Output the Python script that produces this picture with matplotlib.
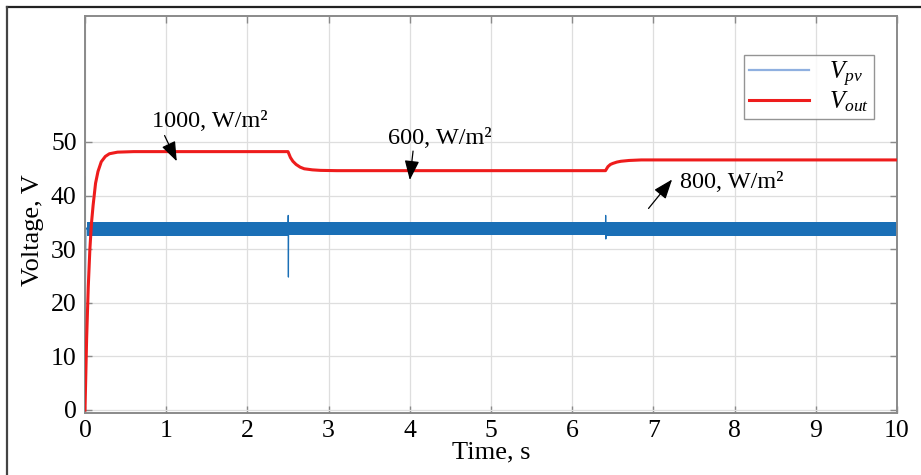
import numpy as np
import matplotlib.pyplot as plt
from matplotlib.lines import Line2D

plt.rcParams['font.family'] = ['Liberation Serif', 'DejaVu Serif']
plt.rcParams['mathtext.fontset'] = 'custom'
plt.rcParams['mathtext.rm'] = 'Liberation Serif'
plt.rcParams['mathtext.it'] = 'Liberation Serif:italic'

# output voltage, sampled along the trace
t_out = [0, 0.02, 0.04, 0.06, 0.08, 0.10, 0.13, 0.16, 0.20, 0.25, 0.30, 0.40, 0.60,
         2.50, 2.53, 2.56, 2.60, 2.65, 2.70, 2.80, 2.90, 3.10,
         6.41, 6.44, 6.47, 6.50, 6.55, 6.60, 6.70, 6.85, 10.0]
v_out = [0, 13.3, 22.9, 30.0, 34.9, 38.2, 42.3, 44.5, 46.3, 47.3, 47.8, 48.1, 48.2,
         48.2, 47.1, 46.4, 45.8, 45.3, 45.0, 44.8, 44.7, 44.65,
         44.65, 45.4, 45.8, 46.0, 46.25, 46.4, 46.55, 46.65, 46.65]

# PV voltage: ripple band envelope plus the start-up and step transients
band_t = [0.02, 2.5, 2.5, 6.41, 6.41, 10.0]
band_hi = [35.1, 35.1, 35.0, 35.0, 35.1, 35.1]
band_lo = [32.4, 32.4, 32.6, 32.6, 32.4, 32.4]
t_pv = [0, 0.002, 0.004, 0.01, 0.02, 2.5, 2.503, 2.505, 2.507, 2.52,
        6.41, 6.412, 6.414, 6.42, 10.0]
v_pv = [0, 43.5, 20.0, 34.0, 33.8, 33.8, 36.3, 24.8, 33.8, 33.8,
        33.8, 36.3, 31.9, 33.8, 33.8]

irr_labels = ['1000, W/m²', '600, W/m²', '800, W/m²']
irr_text = [(1.54, 53.9), (4.37, 50.6), (7.97, 42.4)]
irr_tail = [(0.98, 51.2), (4.04, 48.3), (6.94, 37.6)]
irr_head = [(1.13, 46.4), (4.00, 42.9), (7.23, 43.0)]

blue = '#1a6fb6'
red = '#ee1c1c'
spine = '#8a8a8a'

fig = plt.figure(figsize=(9.21, 4.75), dpi=100)
ax = fig.add_axes([85 / 921, 62 / 475, 812 / 921, 397 / 475])

ax.fill_between(band_t, band_lo, band_hi, color=blue, lw=0, zorder=2)
ax.plot(t_pv, v_pv, color=blue, lw=0.9, zorder=2, label='$V_{pv}$')
ax.plot(t_out, v_out, color=red, lw=2.2, zorder=3, label='$V_{out}$')

for lab, xy_t, tail, head in zip(irr_labels, irr_text, irr_tail, irr_head):
    ax.annotate('', xy=head, xytext=tail,
                arrowprops=dict(arrowstyle='-|>,head_length=1.2,head_width=0.45',
                                color='black', lw=0.9, shrinkA=0, shrinkB=0),
                zorder=4)
    ax.text(xy_t[0], xy_t[1], lab, fontsize=17.5, ha='center', va='center', zorder=4)

ax.set_xlim(0, 10)
ax.set_ylim(-0.56, 73.5)
ax.set_xticks(range(0, 11))
ax.set_yticks(range(0, 51, 10))
ax.grid(True, color='#dedede', lw=0.9)
ax.set_axisbelow(True)
ax.tick_params(direction='in', length=5, width=1, color=spine, labelsize=18.5,
               top=True, right=True)
ax.tick_params(axis='x', pad=5)
ax.tick_params(axis='y', pad=6)
for s in ax.spines.values():
    s.set_color(spine)
    s.set_linewidth(1.4)

ax.set_xlabel('Time, s', fontsize=19, labelpad=0)
ax.set_ylabel('Voltage, V', fontsize=19)
ax.yaxis.set_label_coords(-0.05, 0.46)

leg = ax.legend(loc='upper right', bbox_to_anchor=(0.972, 0.903), fontsize=18,
                frameon=True, fancybox=False, edgecolor='#7a7a7a',
                handlelength=2.4, handletextpad=0.8, borderpad=0.2,
                labelspacing=0.05, borderaxespad=0)
leg.get_frame().set_linewidth(1.0)
leg.get_lines()[0].set_color('#8fb0e0')
leg.get_lines()[0].set_linewidth(1.6)

# frame around the figure (top and left edges)
fig.add_artist(Line2D([6.5 / 921, 1.0], [1 - 7 / 475, 1 - 7 / 475],
                      transform=fig.transFigure, color='#222222', lw=1.6))
fig.add_artist(Line2D([6.5 / 921, 6.5 / 921], [0, 1 - 7 / 475],
                      transform=fig.transFigure, color='#444444', lw=1.6))

fig.savefig('out.png', dpi=100)
